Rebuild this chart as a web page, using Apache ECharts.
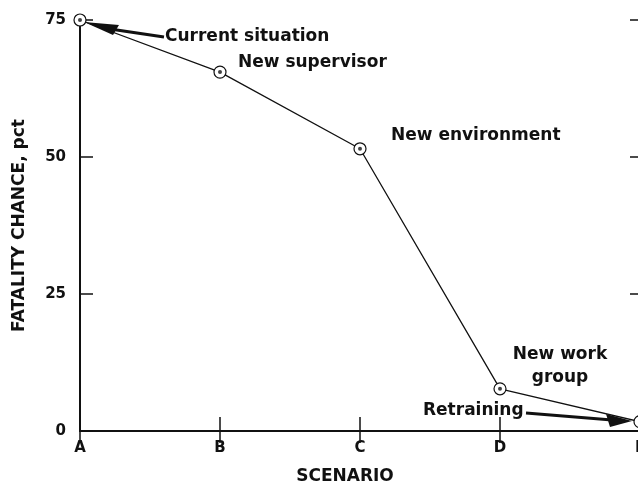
<!DOCTYPE html>
<html>
<head>
<meta charset="utf-8">
<script src="https://cdn.jsdelivr.net/npm/echarts@6/dist/echarts.min.js"></script>
<style>
  html, body { margin: 0; padding: 0; background: #fff; }
  #main { width: 638px; height: 484px; }
</style>
</head>
<body>
<div id="main"></div>
<script>
// scenarios and fatality chance (pct)
var scenarios = ['A', 'B', 'C', 'D', 'E'];
var fatality = [75, 65.5, 51.5, 7.7, 1.7];
var yTicks = [0, 25, 50, 75];

var FONT = '"DejaVu Sans", "Liberation Sans", sans-serif';
var ink = '#111';

var myChart = echarts.init(document.getElementById('main'));

function note(text, x, y, align) {
  return {
    type: 'text', x: x, y: y,
    style: { text: text, fill: ink, font: 'bold 17px ' + FONT, align: align || 'left', verticalAlign: 'middle' }
  };
}

myChart.setOption({
  backgroundColor: '#fff',
  animation: false,
  grid: { left: 80, top: 20, width: 560, height: 411, outerBoundsMode: 'none', containLabel: false },
  xAxis: [{
    type: 'category',
    data: scenarios,
    boundaryGap: false,
    position: 'bottom',
    axisLine: { lineStyle: { color: ink, width: 2 } },
    axisTick: { inside: true, length: 14, lineStyle: { color: ink, width: 1.5 } },
    axisLabel: { color: ink, fontFamily: FONT, fontWeight: 'bold', fontSize: 15, margin: 10 },
    splitLine: { show: false },
    name: 'SCENARIO',
    nameLocation: 'middle',
    nameGap: 37,
    nameTextStyle: { color: ink, fontFamily: FONT, fontWeight: 'bold', fontSize: 17, padding: [0, 30, 0, 0] }
  }, {
    type: 'category',
    data: scenarios,
    boundaryGap: false,
    position: 'top',
    axisLine: { lineStyle: { color: ink, width: 2 } },
    axisTick: { inside: true, length: 12, lineStyle: { color: ink, width: 1.5 } },
    axisLabel: { show: false }
  }],
  yAxis: [{
    type: 'value',
    min: 0,
    max: 75,
    interval: 25,
    axisLine: { show: true, lineStyle: { color: ink, width: 2 } },
    axisTick: { show: true, inside: true, length: 13, lineStyle: { color: ink, width: 1.5 } },
    axisLabel: { color: ink, fontFamily: FONT, fontWeight: 'bold', fontSize: 15, margin: 14,
      formatter: function (v) { return yTicks.indexOf(v) >= 0 ? String(v) : ''; } },
    splitLine: { show: false },
    name: 'FATALITY CHANCE, pct',
    nameLocation: 'middle',
    nameGap: 52,
    nameTextStyle: { color: ink, fontFamily: FONT, fontWeight: 'bold', fontSize: 17 }
  }, {
    type: 'value',
    min: 0,
    max: 75,
    interval: 25,
    position: 'right',
    axisLine: { show: true, lineStyle: { color: ink, width: 2 } },
    axisTick: { show: true, inside: true, length: 10, lineStyle: { color: ink, width: 1.5 } },
    axisLabel: { show: false },
    splitLine: { show: false }
  }],
  series: [{
    type: 'line',
    data: fatality,
    symbol: 'circle',
    symbolSize: 12,
    showAllSymbol: true,
    lineStyle: { color: ink, width: 1.3 },
    itemStyle: { color: '#fff', borderColor: ink, borderWidth: 1.2 },
    z: 3
  }, {
    type: 'scatter',
    data: fatality,
    symbol: 'circle',
    symbolSize: 4,
    itemStyle: { color: ink },
    z: 4
  }],
  graphic: [
    note('Current situation', 165, 37),
    { type: 'line', shape: { x1: 164, y1: 37, x2: 110, y2: 29 }, style: { stroke: ink, lineWidth: 3 } },
    { type: 'polygon', shape: { points: [[84, 22], [119, 25], [113, 35]] }, style: { fill: ink } },
    note('New supervisor', 238, 63),
    note('New environment', 391, 136),
    note('New work', 560, 355, 'center'),
    note('group', 560, 378, 'center'),
    note('Retraining', 423, 411),
    { type: 'line', shape: { x1: 526, y1: 413, x2: 612, y2: 420 }, style: { stroke: ink, lineWidth: 3 } },
    { type: 'polygon', shape: { points: [[632, 421], [606, 414], [610, 427]] }, style: { fill: ink } }
  ]
});
</script>
</body>
</html>
